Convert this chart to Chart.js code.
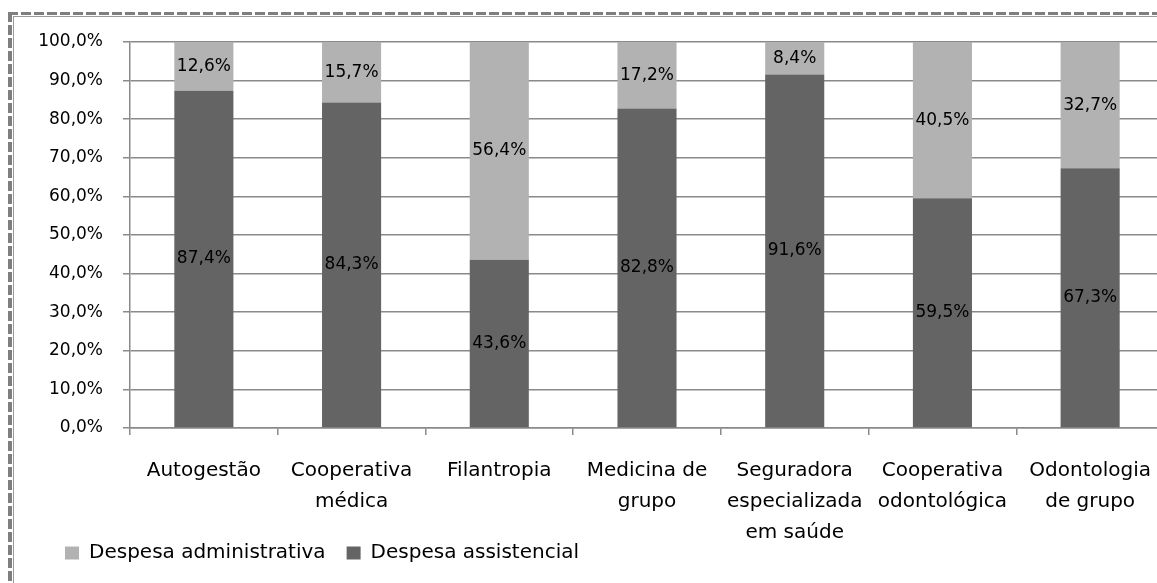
<!DOCTYPE html>
<html>
<head>
<meta charset="utf-8">
<script src="https://cdn.jsdelivr.net/npm/chart.js@4.4.0/dist/chart.umd.min.js"></script>
<style>
  html, body { margin: 0; padding: 0; background: #fff; }
  body { width: 1157px; height: 583px; position: relative; overflow: hidden; }
  .dash-top { position: absolute; left: 8px; top: 12px; width: 1160px; height: 3px;
              background: repeating-linear-gradient(to right, #7f7f7f 0 10px, transparent 10px 13px); }
  .line-top { position: absolute; left: 13px; top: 16px; width: 1160px; height: 1px; background: #9a9a9a; }
  .dash-left { position: absolute; left: 8px; top: 12px; width: 4px; height: 600px;
               background: repeating-linear-gradient(to bottom, #7f7f7f 0 10px, transparent 10px 13px); }
  .line-left { position: absolute; left: 13px; top: 16px; width: 1px; height: 600px; background: #9a9a9a; }
  #wrap { position: absolute; left: 0; top: 0; width: 1180px; height: 583px; }
</style>
</head>
<body>
<div class="dash-top"></div><div class="line-top"></div>
<div class="dash-left"></div><div class="line-left"></div>
<div id="wrap"><canvas id="chart"></canvas></div>
<script>
const categories = [
    'Autogestão',
    ['Cooperativa', 'médica'],
    'Filantropia',
    ['Medicina de', 'grupo'],
    ['Seguradora', 'especializada', 'em saúde'],
    ['Cooperativa', 'odontológica'],
    ['Odontologia', 'de grupo']
];
const administrativa = [12.6, 15.7, 56.4, 17.2, 8.4, 40.5, 32.7];
const assistencial = [87.4, 84.3, 43.6, 82.8, 91.6, 59.5, 67.3];
const yTicks = [0, 10, 20, 30, 40, 50, 60, 70, 80, 90, 100];

const fontFamily = '"DejaVu Sans", sans-serif';

function pct(v) {
    return v.toFixed(1).replace('.', ',') + '%';
}

// labels in the middle of each segment
const segmentLabels = {
    id: 'segmentLabels',
    afterDatasetsDraw(chart) {
        const ctx = chart.ctx;
        ctx.save();
        ctx.font = '17px ' + fontFamily;
        ctx.fillStyle = '#000';
        ctx.textAlign = 'center';
        ctx.textBaseline = 'middle';
        chart.data.datasets.forEach((ds, i) => {
            const meta = chart.getDatasetMeta(i);
            meta.data.forEach((bar, j) => {
                const mid = (bar.y + bar.base) / 2;
                ctx.fillText(pct(ds.data[j]), bar.x, mid);
            });
        });
        ctx.restore();
    }
};

// the legend sits under the left labels, overlapping the x label block
const legendPlace = {
    id: 'legendPlace',
    afterLayout(chart) {
        const lg = chart.legend;
        lg.left += 24;
        lg.right += 24;
        lg.top = 522;
        lg.bottom = 583;
    }
};

new Chart(document.getElementById('chart'), {
    type: 'bar',
    data: {
        labels: categories,
        datasets: [
            {
                label: 'Despesa assistencial',
                data: assistencial,
                backgroundColor: '#646464',
                stack: 's'
            },
            {
                label: 'Despesa administrativa',
                data: administrativa,
                backgroundColor: '#b2b2b2',
                stack: 's'
            }
        ]
    },
    options: {
        responsive: true,
        maintainAspectRatio: false,
        animation: false,
        datasets: { bar: { categoryPercentage: 1, barPercentage: 0.40 } },
        layout: { padding: { left: 20, right: 16, top: 42, bottom: 0 } },
        plugins: {
            tooltip: { enabled: false },
            legend: {
                position: 'bottom',
                align: 'start',
                reverse: true,
                maxHeight: 20,
                labels: {
                    boxWidth: 14,
                    boxHeight: 13,
                    padding: 21,
                    color: '#000',
                    font: { family: fontFamily, size: 20 }
                }
            }
        },
        scales: {
            x: {
                stacked: true,
                grid: {
                    offset: true,
                    drawOnChartArea: false,
                    drawTicks: true,
                    tickLength: 7,
                    color: '#8a8a8a',
                    lineWidth: 1.5
                },
                border: { color: '#8a8a8a', width: 1.5 },
                ticks: {
                    color: '#000',
                    padding: 20,
                    maxRotation: 0,
                    autoSkip: false,
                    font: { family: fontFamily, size: 20, lineHeight: 1.55 }
                },
                afterFit(scale) { scale.height = 135; }
            },
            y: {
                stacked: true,
                min: 0,
                max: 100,
                afterBuildTicks(scale) { scale.ticks = yTicks.map(v => ({ value: v })); },
                grid: {
                    color: '#8a8a8a',
                    lineWidth: 1.5,
                    tickLength: 7
                },
                border: { color: '#8a8a8a', width: 1.5 },
                ticks: {
                    color: '#000',
                    padding: 20,
                    font: { family: fontFamily, size: 17 },
                    callback: v => pct(v)
                },
                afterFit(scale) { scale.width = 110; }
            }
        }
    },
    plugins: [segmentLabels, legendPlace]
});
</script>
</body>
</html>
